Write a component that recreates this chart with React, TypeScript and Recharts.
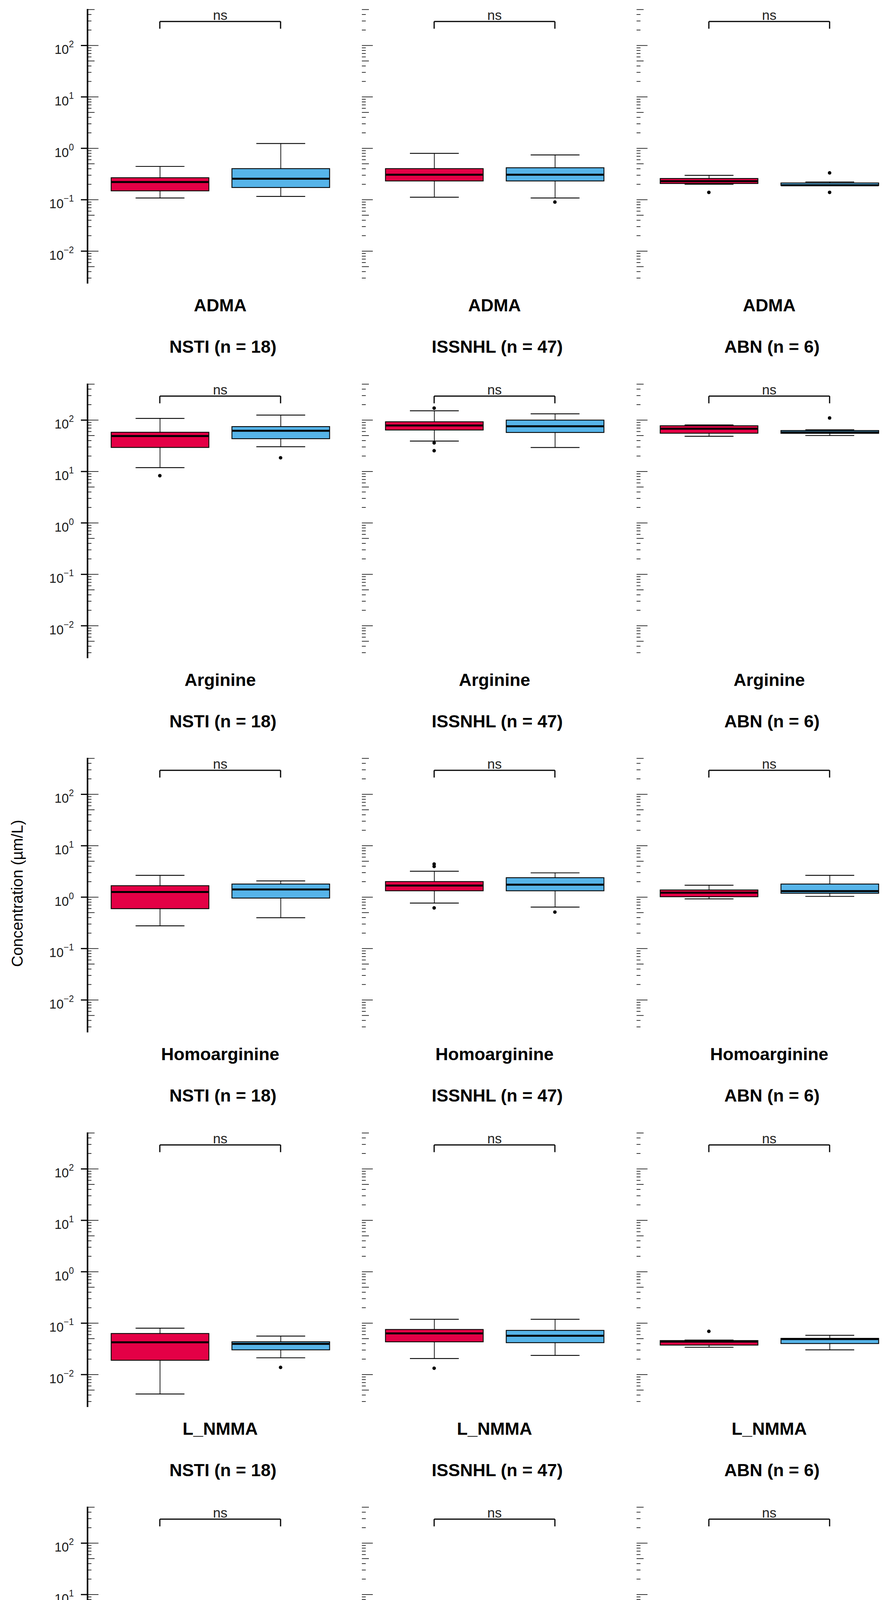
import { ComposedChart, Bar, Line, XAxis, YAxis, ReferenceLine } from 'recharts'

const METABOLITES = ['ADMA', 'Arginine', 'Homoarginine', 'L_NMMA', 'SDMA']
const COHORTS = ['NSTI (n = 18)', 'ISSNHL (n = 47)', 'ABN (n = 6)']
const GROUPS = ['pre-HBOT', 'post-HBOT']
const COLORS = ['#E40046', '#56B4E9']

// every stat is [metabolite][cohort][pre, post]
const WHISKER_LO = [
  [[0.108, 0.116], [0.112, 0.108], [0.2, 0.19]],
  [[11.9, 30.4], [39.1, 29.3], [48.4, 50.1]],
  [[0.277, 0.398], [0.767, 0.641], [0.927, 1.035]],
  [[0.0042, 0.0212], [0.0205, 0.0236], [0.034, 0.0303]],
  [[0.0741, 0.133], [0.11, 0.16], [0.276, 0.248]],
]
const Q1 = [
  [[0.149, 0.173], [0.232, 0.232], [0.207, 0.19]],
  [[29.4, 43.5], [64.2, 57.5], [55.6, 55.3]],
  [[0.597, 0.96], [1.33, 1.33], [1.02, 1.19]],
  [[0.019, 0.0303], [0.0434, 0.0418], [0.0375, 0.0402]],
  [[0.199, 0.298], [0.247, 0.309], [0.284, 0.267]],
]
const MEDIAN = [
  [[0.221, 0.256], [0.307, 0.307], [0.23, 0.191]],
  [[49, 62], [78.5, 75.9], [68, 57.5]],
  [[1.26, 1.41], [1.68, 1.75], [1.22, 1.31]],
  [[0.0426, 0.0397], [0.0634, 0.0571], [0.0438, 0.0492]],
  [[0.364, 0.422], [0.352, 0.407], [0.327, 0.327]],
]
const Q3 = [
  [[0.268, 0.403], [0.403, 0.419], [0.259, 0.212]],
  [[58, 74.8], [92.8, 100], [77.6, 62.7]],
  [[1.67, 1.8], [2.01, 2.39], [1.38, 1.8]],
  [[0.063, 0.0435], [0.0754, 0.0724], [0.0459, 0.0506]],
  [[0.5, 0.552], [0.533, 0.5], [0.371, 0.4]],
]
const WHISKER_HI = [
  [[0.445, 1.24], [0.797, 0.743], [0.298, 0.222]],
  [[108, 125], [152, 132.6], [80.4, 64.6]],
  [[2.66, 2.07], [3.19, 2.97], [1.71, 2.66]],
  [[0.08, 0.0561], [0.119, 0.119], [0.047, 0.0581]],
  [[0.741, 0.741], [1.19, 0.889], [0.384, 0.414]],
]
const OUTLIERS = [
  [[[], []], [[], [0.09]], [[0.139], [0.333, 0.139]]],
  [[[8.3], [18.5]], [[171, 36.1, 25.4], []], [[], [110]]],
  [[[], []], [[4.4, 3.96, 0.618], [0.513]], [[], []]],
  [[[], [0.0138]], [[0.0133], []], [[0.0695], []]],
  [[[], [1.78, 0.1145]], [[], []], [[], []]],
]
const BRACKET_Y = 293
const BRACKET_TIP = 212
const P_LABEL = 'ns'

const Y_DOMAIN = [0.00234, 513]
const DECADES = [0.001, 0.01, 0.1, 1, 10, 100]
const MANTISSAS = [1, 2, 3, 4, 5, 6, 7, 8, 9]
const LOG_TICKS = DECADES.flatMap((d) => MANTISSAS.map((m) => +(m * d).toPrecision(3)))
  .filter((v) => v >= Y_DOMAIN[0] && v <= Y_DOMAIN[1])

// layout (px)
const PANEL_LEFT = [224, 926, 1629]
const PANEL_W = 679
const PLOT_H = 703
const ROW_TOP = 23
const ROW_STEP = 958.6
const AXIS_W = 110
const TOP_PAD = 10
const X_AXIS_H = 240
const FONT = '"Liberation Sans", Arial, Helvetica, sans-serif'

function LogTick(props: any) {
  const { x, y, payload, labels } = props
  const v = payload.value
  const e = Math.floor(Math.log10(v) + 1e-9)
  const m = Math.round(v / Math.pow(10, e))
  const len = m === 1 ? 28 : m === 5 ? 18 : 10
  return (
    <g>
      <line x1={x} x2={x + len} y1={y} y2={y} stroke="#000" strokeWidth={1.6} />
      {labels && m === 1 && (
        <>
          <line x1={x - 17} x2={x} y1={y} y2={y} stroke="#000" strokeWidth={3} />
          <text x={x - 35} y={y + 22} textAnchor="end" fontSize={33} fill="#1a1a1a">
            10
            <tspan dy={-17} fontSize={23}>{e < 0 ? '\u2212' + -e : e}</tspan>
          </text>
        </>
      )}
    </g>
  )
}

function BottomTick(props: any) {
  const { x, y } = props
  return <line x1={x} x2={x} y1={y + 207} y2={y + 227} stroke="#333" strokeWidth={2.5} />
}

function BoxShape(props: any) {
  const { x, y, width, height, payload } = props
  const { lo, q1, med, q3, hi, group } = payload
  const top = Math.min(y, y + height)
  const h = Math.abs(height)
  const span = Math.log10(hi) - Math.log10(lo)
  const at = (v: number) => (span > 0 ? top + (h * (Math.log10(hi) - Math.log10(v))) / span : top)
  const cx = x + width / 2
  const cap = width / 4
  const fill = COLORS[GROUPS.indexOf(group)]
  return (
    <g>
      <line x1={cx} x2={cx} y1={at(hi)} y2={at(q3)} stroke="#000" strokeWidth={1.8} />
      <line x1={cx} x2={cx} y1={at(q1)} y2={at(lo)} stroke="#000" strokeWidth={1.8} />
      <line x1={cx - cap} x2={cx + cap} y1={at(hi)} y2={at(hi)} stroke="#000" strokeWidth={2.2} />
      <line x1={cx - cap} x2={cx + cap} y1={at(lo)} y2={at(lo)} stroke="#000" strokeWidth={2.2} />
      <rect x={x} y={at(q3)} width={width} height={Math.max(at(q1) - at(q3), 0.5)} fill={fill} stroke="#000" strokeWidth={2.2} />
      <line x1={x} x2={x + width} y1={at(med)} y2={at(med)} stroke="#000" strokeWidth={5} />
    </g>
  )
}

function Panel({ m, c }: { m: number; c: number }) {
  const data = GROUPS.map((g, k) => {
    const row: any = {
      group: g,
      lo: WHISKER_LO[m][c][k],
      q1: Q1[m][c][k],
      med: MEDIAN[m][c][k],
      q3: Q3[m][c][k],
      hi: WHISKER_HI[m][c][k],
      range: [WHISKER_LO[m][c][k], WHISKER_HI[m][c][k]],
    }
    OUTLIERS[m][c][k].forEach((v, i) => (row['out' + i] = v))
    return row
  })
  const last = m === METABOLITES.length - 1
  const first = c === 0
  const height = TOP_PAD + PLOT_H + (last ? X_AXIS_H : 0)
  return (
    <div style={{ position: 'absolute', left: PANEL_LEFT[c] - AXIS_W, top: ROW_TOP + ROW_STEP * m - TOP_PAD }}>
      <ComposedChart width={AXIS_W + PANEL_W} height={height} data={data}
        margin={{ top: TOP_PAD, right: 0, bottom: 0, left: 0 }}>
        <XAxis dataKey="group" hide={!last} height={X_AXIS_H} padding={{ left: 30.5, right: 30.5 }}
          axisLine={false} tickLine={false} tickSize={0} tickMargin={0} interval={0}
          tick={(p: any) => <BottomTick {...p} />} />
        <YAxis yAxisId="y" scale="log" domain={Y_DOMAIN} allowDataOverflow ticks={LOG_TICKS} interval={0}
          width={AXIS_W} tickLine={false} tickSize={0} tickMargin={0}
          axisLine={first ? { stroke: '#000', strokeWidth: 4 } : false}
          tick={(p: any) => <LogTick {...p} labels={first} />} />
        <Bar yAxisId="y" dataKey="range" barSize={250} isAnimationActive={false}
          shape={(p: any) => <BoxShape {...p} />} />
        {[0, 1, 2].map((i) => (
          <Line key={i} yAxisId="y" dataKey={'out' + i} stroke="none" isAnimationActive={false}
            dot={{ r: 4.5, fill: '#000', stroke: '#000', strokeWidth: 0 }} activeDot={false} />
        ))}
        <ReferenceLine yAxisId="y" stroke="#000" strokeWidth={3}
          segment={[{ x: GROUPS[0], y: BRACKET_Y }, { x: GROUPS[1], y: BRACKET_Y }]}
          label={{ value: P_LABEL, position: 'top', fontSize: 35, fill: '#222', offset: 4 }} />
        {GROUPS.map((g) => (
          <ReferenceLine key={g} yAxisId="y" stroke="#000" strokeWidth={3}
            segment={[{ x: g, y: BRACKET_TIP }, { x: g, y: BRACKET_Y }]} />
        ))}
      </ComposedChart>
    </div>
  )
}

function Overlay() {
  const lx = [1063, 1392]
  const tx = [1153, 1470]
  return (
    <svg width={2275} height={5116} style={{ position: 'absolute', left: 0, top: 0, pointerEvents: 'none' }}>
      <text x={44} y={2287} transform="rotate(-90 44 2287)" textAnchor="middle" dominantBaseline="central"
        fontSize={40} fill="#000">Concentration (µm/L)</text>
      {METABOLITES.map((name, m) =>
        COHORTS.map((cohort, c) => {
          const cx = PANEL_LEFT[c] + PANEL_W / 2
          const top = ROW_TOP + ROW_STEP * m
          return (
            <g key={name + cohort}>
              <text x={cx} y={top + 774} textAnchor="middle" fontSize={45} fontWeight="bold">{name}</text>
              <text x={cx + 7} y={top + 880} textAnchor="middle" fontSize={45} fontWeight="bold">{cohort}</text>
            </g>
          )
        })
      )}
      <text x={852} y={5090} fontSize={60} fontWeight="bold">HBOT</text>
      {GROUPS.map((g, k) => (
        <g key={g}>
          <line x1={lx[k] + 20} x2={lx[k] + 20} y1={5045} y2={5084} stroke="#000" strokeWidth={2} />
          <rect x={lx[k]} y={5052} width={40} height={27} fill={COLORS[k]} stroke="#000" strokeWidth={2} />
          <line x1={lx[k]} x2={lx[k] + 40} y1={5065.5} y2={5065.5} stroke="#000" strokeWidth={2.5} />
          <text x={tx[k]} y={5080} fontSize={43}>{g}</text>
        </g>
      ))}
    </svg>
  )
}

export default function App() {
  return (
    <div style={{ position: 'relative', width: 2275, height: 5116, overflow: 'hidden',
      background: '#fff', fontFamily: FONT }}>
      <style>{'body { margin: 0; }'}</style>
      {METABOLITES.map((name, m) => COHORTS.map((cohort, c) => <Panel key={name + cohort} m={m} c={c} />))}
      <Overlay />
    </div>
  )
}
